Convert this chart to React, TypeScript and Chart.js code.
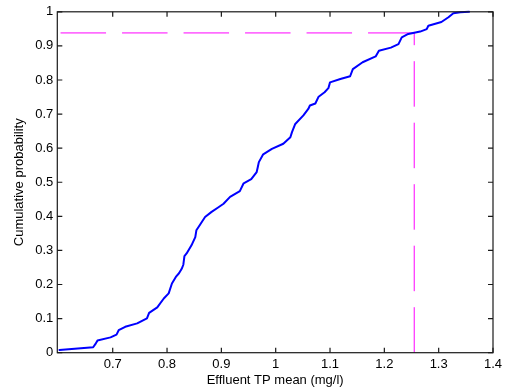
import React, { useEffect, useRef } from 'react';
import { Chart, registerables } from 'chart.js';

Chart.register(...registerables);

const cdfX = [
  0.602, 0.664, 0.668, 0.672, 0.696, 0.707, 0.711, 0.723, 0.745, 0.763,
  0.767, 0.782, 0.794, 0.803, 0.809, 0.817, 0.822, 0.827, 0.830, 0.832,
  0.836, 0.845, 0.852, 0.854, 0.861, 0.870, 0.882, 0.894, 0.904, 0.916,
  0.934, 0.941, 0.955, 0.965, 0.967, 0.969, 0.977, 0.993, 1.014, 1.027,
  1.030, 1.036, 1.051, 1.060, 1.063, 1.073, 1.079, 1.090, 1.097, 1.100,
  1.119, 1.137, 1.142, 1.160, 1.184, 1.190, 1.212, 1.226, 1.232, 1.244,
  1.266, 1.278, 1.281, 1.305, 1.318, 1.327, 1.340, 1.356,
];
const cdfY = [
  0.008, 0.016, 0.025, 0.036, 0.045, 0.053, 0.066, 0.076, 0.086, 0.101,
  0.117, 0.133, 0.159, 0.174, 0.203, 0.224, 0.233, 0.246, 0.258, 0.283,
  0.291, 0.315, 0.339, 0.359, 0.376, 0.398, 0.413, 0.426, 0.437, 0.457,
  0.474, 0.497, 0.509, 0.530, 0.544, 0.559, 0.582, 0.598, 0.613, 0.632,
  0.647, 0.671, 0.696, 0.715, 0.725, 0.731, 0.751, 0.764, 0.776, 0.793,
  0.803, 0.811, 0.832, 0.852, 0.869, 0.886, 0.895, 0.905, 0.925, 0.935,
  0.942, 0.949, 0.959, 0.970, 0.984, 0.996, 0.999, 1.0,
];

const xTicks = [0.7, 0.8, 0.9, 1.0, 1.1, 1.2, 1.3, 1.4];
const xTickLabels = ['0.7', '0.8', '0.9', '1', '1.1', '1.2', '1.3', '1.4'];
const yTicks = [0, 0.1, 0.2, 0.3, 0.4, 0.5, 0.6, 0.7, 0.8, 0.9, 1];
const yTickLabels = ['0', '0.1', '0.2', '0.3', '0.4', '0.5', '0.6', '0.7', '0.8', '0.9', '1'];

const xMin = 0.598;
const xMax = 1.4;
const thresholdX = 1.255;
const thresholdP = 0.938;
const guideStartX = 0.604;

const FONT = 'Liberation Sans, Arial, Helvetica, sans-serif';

const boxPlugin = {
  id: 'matlabBox',
  afterDraw(chart: any) {
    const { ctx, chartArea } = chart;
    const { left, right, top, bottom } = chartArea;
    const xs = chart.scales.x;
    const ys = chart.scales.y;
    ctx.save();
    ctx.strokeStyle = '#1a1a1a';
    ctx.lineWidth = 1.2;
    ctx.strokeRect(left, top, right - left, bottom - top);
    const tl = 5;
    ctx.beginPath();
    xTicks.forEach((v) => {
      const px = xs.getPixelForValue(v);
      ctx.moveTo(px, bottom);
      ctx.lineTo(px, bottom - tl);
      ctx.moveTo(px, top);
      ctx.lineTo(px, top + tl);
    });
    yTicks.forEach((v) => {
      const py = ys.getPixelForValue(v);
      ctx.moveTo(left, py);
      ctx.lineTo(left + tl, py);
      ctx.moveTo(right, py);
      ctx.lineTo(right - tl, py);
    });
    ctx.stroke();
    ctx.restore();
  },
};

export default function App() {
  const ref = useRef<HTMLCanvasElement>(null);

  useEffect(() => {
    if (!ref.current) return;
    const chart = new Chart(ref.current, {
      type: 'scatter',
      data: {
        datasets: [
          {
            data: cdfX.map((x, i) => ({ x, y: cdfY[i] })),
            showLine: true,
            borderColor: '#0000ff',
            borderWidth: 2,
            pointRadius: 0,
            tension: 0,
            borderJoinStyle: 'round',
            borderCapStyle: 'round',
            clip: false as any,
          },
          {
            data: [
              { x: guideStartX, y: thresholdP },
              { x: thresholdX, y: thresholdP },
            ],
            showLine: true,
            borderColor: '#ff00ff',
            borderWidth: 1,
            borderDash: [45.5, 16],
            pointRadius: 0,
          },
          {
            data: [
              { x: thresholdX, y: 0 },
              { x: thresholdX, y: thresholdP },
            ],
            showLine: true,
            borderColor: '#ff00ff',
            borderWidth: 1,
            borderDash: [45.5, 16],
            pointRadius: 0,
          },
        ],
      },
      options: {
        responsive: false,
        animation: false,
        layout: { padding: { top: 11, right: 15, left: 0, bottom: 0 } },
        plugins: {
          legend: { display: false },
          tooltip: { enabled: false },
        },
        scales: {
          x: {
            type: 'linear',
            min: xMin,
            max: xMax,
            grid: { display: false, drawTicks: false },
            border: { display: false },
            afterBuildTicks: (s: any) => {
              s.ticks = xTicks.map((v) => ({ value: v }));
            },
            afterFit: (s: any) => {
              s.height = 38.3;
            },
            ticks: {
              padding: 3.5,
              color: '#000',
              maxRotation: 0,
              autoSkip: false,
              font: { family: FONT, size: 13 },
              callback: (_v: any, i: number) => xTickLabels[i],
            },
            title: {
              display: true,
              text: 'Effluent TP mean (mg/l)',
              color: '#000',
              font: { family: FONT, size: 13 },
              padding: { top: 0, bottom: 3.2 },
            },
          },
          y: {
            type: 'linear',
            min: 0,
            max: 1,
            grid: { display: false, drawTicks: false },
            border: { display: false },
            afterBuildTicks: (s: any) => {
              s.ticks = yTicks.map((v) => ({ value: v }));
            },
            afterFit: (s: any) => {
              s.width = 57.3;
            },
            ticks: {
              padding: 4,
              color: '#000',
              autoSkip: false,
              font: { family: FONT, size: 13 },
              callback: (_v: any, i: number) => yTickLabels[i],
            },
            title: {
              display: true,
              text: 'Cumulative probability',
              color: '#000',
              font: { family: FONT, size: 13 },
              padding: { top: 12, bottom: 0 },
            },
          },
        },
      },
      plugins: [boxPlugin],
    });
    return () => chart.destroy();
  }, []);

  return (
    <div style={{ position: 'fixed', left: 0, top: 0, width: 508, height: 391, background: '#fff' }}>
      <canvas ref={ref} width={508} height={391} />
    </div>
  );
}
